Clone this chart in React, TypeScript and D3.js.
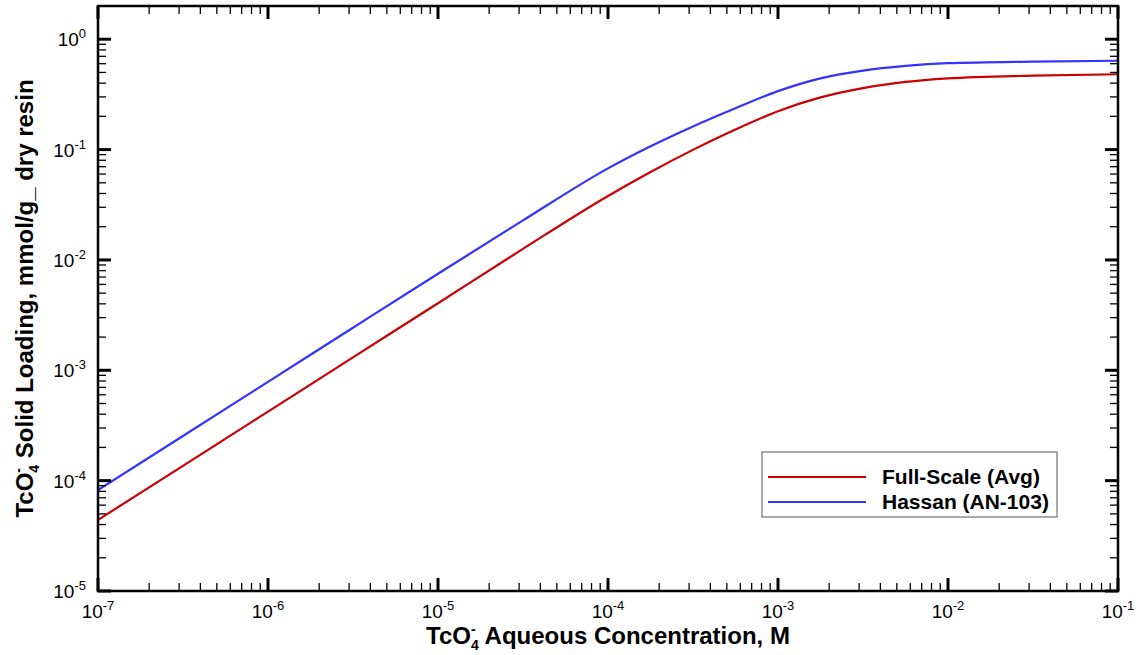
import React from "react";
import * as d3 from "d3";

// TcO4- aqueous concentration (M)
const concentration = [1e-7, 3.16e-7, 1e-6, 3.16e-6, 1e-5, 3.16e-5, 1e-4, 1.78e-4, 3.16e-4, 5.62e-4, 1e-3, 1.78e-3, 3.16e-3, 5.62e-3, 1e-2, 3.16e-2, 1e-1];
// Solid loading (mmol/g dry resin)
const fullScaleAvg = [4.41e-5, 1.36e-4, 4.22e-4, 1.31e-3, 4.05e-3, 0.0126, 0.038, 0.0627, 0.0994, 0.152, 0.2226, 0.297, 0.361, 0.41, 0.4416, 0.4677, 0.4815];
const hassanAN103 = [8.22e-5, 2.54e-4, 7.85e-4, 2.43e-3, 7.5e-3, 0.0228, 0.0676, 0.1072, 0.1622, 0.2371, 0.3388, 0.4416, 0.5188, 0.5723, 0.6062, 0.6275, 0.6383];

const seriesNames = ["Full-Scale (Avg)", "Hassan (AN-103)"];
const seriesColors = ["#cc0000", "#3333ff"];

const xTickExps = [-7, -6, -5, -4, -3, -2, -1];
const yTickExps = [-5, -4, -3, -2, -1, 0];

const W = 1141;
const H = 655;
const L = 98;
const R = 1118;
const T = 6;
const B = 591;

const FONT = "'Liberation Sans', Arial, Helvetica, sans-serif";

export default function App() {
  const x = d3.scaleLog().domain([1e-7, 1e-1]).range([L, R]);
  const y = d3.scaleLog().domain([1e-5, 2]).range([B, T]);

  const line = d3
    .line<[number, number]>()
    .x((d) => x(d[0]))
    .y((d) => y(d[1]))
    .curve(d3.curveMonotoneX);

  const series = [fullScaleAvg, hassanAN103];

  const xMinor: number[] = [];
  for (let e = -7; e < -1; e++) for (let m = 2; m <= 9; m++) xMinor.push(m * Math.pow(10, e));
  const yMinor: number[] = [];
  for (let e = -5; e <= 0; e++)
    for (let m = 2; m <= 9; m++) {
      const v = m * Math.pow(10, e);
      if (v <= 2) yMinor.push(v);
    }

  const majLen = 13;
  const minLen = 8;

  return (
    <svg
      width={W}
      height={H}
      style={{ position: "absolute", left: 0, top: 0, background: "#fff" }}
      fontFamily={FONT}
    >
      <defs>
        <clipPath id="plotclip">
          <rect x={L} y={T} width={R - L} height={B - T} />
        </clipPath>
      </defs>
      <rect x={0} y={0} width={W} height={H} fill="#fff" />

      <g clipPath="url(#plotclip)">
        {series.map((s, i) => (
          <path
            key={i}
            d={line(concentration.map((c, j) => [c, s[j]] as [number, number])) || ""}
            fill="none"
            stroke={seriesColors[i]}
            strokeWidth={2.2}
          />
        ))}
      </g>

      <g stroke="#000">
        {xMinor.map((v, i) => (
          <g key={"xm" + i} strokeWidth={1.3}>
            <line x1={x(v)} x2={x(v)} y1={B} y2={B - minLen} />
            <line x1={x(v)} x2={x(v)} y1={T} y2={T + minLen} />
          </g>
        ))}
        {xTickExps.map((e) => (
          <g key={"xM" + e} strokeWidth={3}>
            <line x1={x(Math.pow(10, e))} x2={x(Math.pow(10, e))} y1={B} y2={B - majLen} />
            <line x1={x(Math.pow(10, e))} x2={x(Math.pow(10, e))} y1={T} y2={T + majLen} />
          </g>
        ))}
        {yMinor.map((v, i) => (
          <g key={"ym" + i} strokeWidth={1.3}>
            <line x1={L} x2={L + minLen} y1={y(v)} y2={y(v)} />
            <line x1={R} x2={R - minLen} y1={y(v)} y2={y(v)} />
          </g>
        ))}
        {yTickExps.map((e) => (
          <g key={"yM" + e} strokeWidth={3}>
            <line x1={L} x2={L + majLen} y1={y(Math.pow(10, e))} y2={y(Math.pow(10, e))} />
            <line x1={R} x2={R - majLen} y1={y(Math.pow(10, e))} y2={y(Math.pow(10, e))} />
          </g>
        ))}
      </g>

      <rect x={L} y={T} width={R - L} height={B - T} fill="none" stroke="#000" strokeWidth={2.5} />

      {xTickExps.map((e) => (
        <text key={"xl" + e} x={x(Math.pow(10, e))} y={618} textAnchor="middle" fontSize={19} fill="#000">
          10
          <tspan dy={-8} fontSize={13}>
            {e}
          </tspan>
        </text>
      ))}

      {yTickExps.map((e) => (
        <text key={"yl" + e} x={86} y={y(Math.pow(10, e)) + 7} textAnchor="end" fontSize={19} fill="#000">
          10
          <tspan dy={-8} fontSize={13}>
            {e}
          </tspan>
        </text>
      ))}

      <text x={(L + R) / 2} y={644} textAnchor="middle" fontSize={24} fontWeight="bold" fill="#000">
        TcO
        <tspan dy={-10} fontSize={14}>-</tspan>
        <tspan dx={-4.7} dy={16} fontSize={14}>4</tspan>
        <tspan dy={-6}> Aqueous Concentration, M</tspan>
      </text>

      <text
        transform={`translate(33, ${(T + B) / 2}) rotate(-90)`}
        x={0}
        y={0}
        textAnchor="middle"
        fontSize={24}
        fontWeight="bold"
        fill="#000"
      >
        TcO
        <tspan dy={-10} fontSize={14}>-</tspan>
        <tspan dx={-4.7} dy={16} fontSize={14}>4</tspan>
        <tspan dy={-6}> Solid Loading, mmol/g_ dry resin</tspan>
      </text>

      <rect x={762} y={452} width={295} height={65} fill="#fff" stroke="#555" strokeWidth={1} />
      {seriesNames.map((n, i) => (
        <g key={"lg" + i}>
          <line x1={768} x2={866} y1={477 + i * 25} y2={477 + i * 25} stroke={seriesColors[i]} strokeWidth={2.2} />
          <text x={882} y={477 + i * 25 + 7} fontSize={21} fontWeight="bold" fill="#000">
            {n}
          </text>
        </g>
      ))}
    </svg>
  );
}
